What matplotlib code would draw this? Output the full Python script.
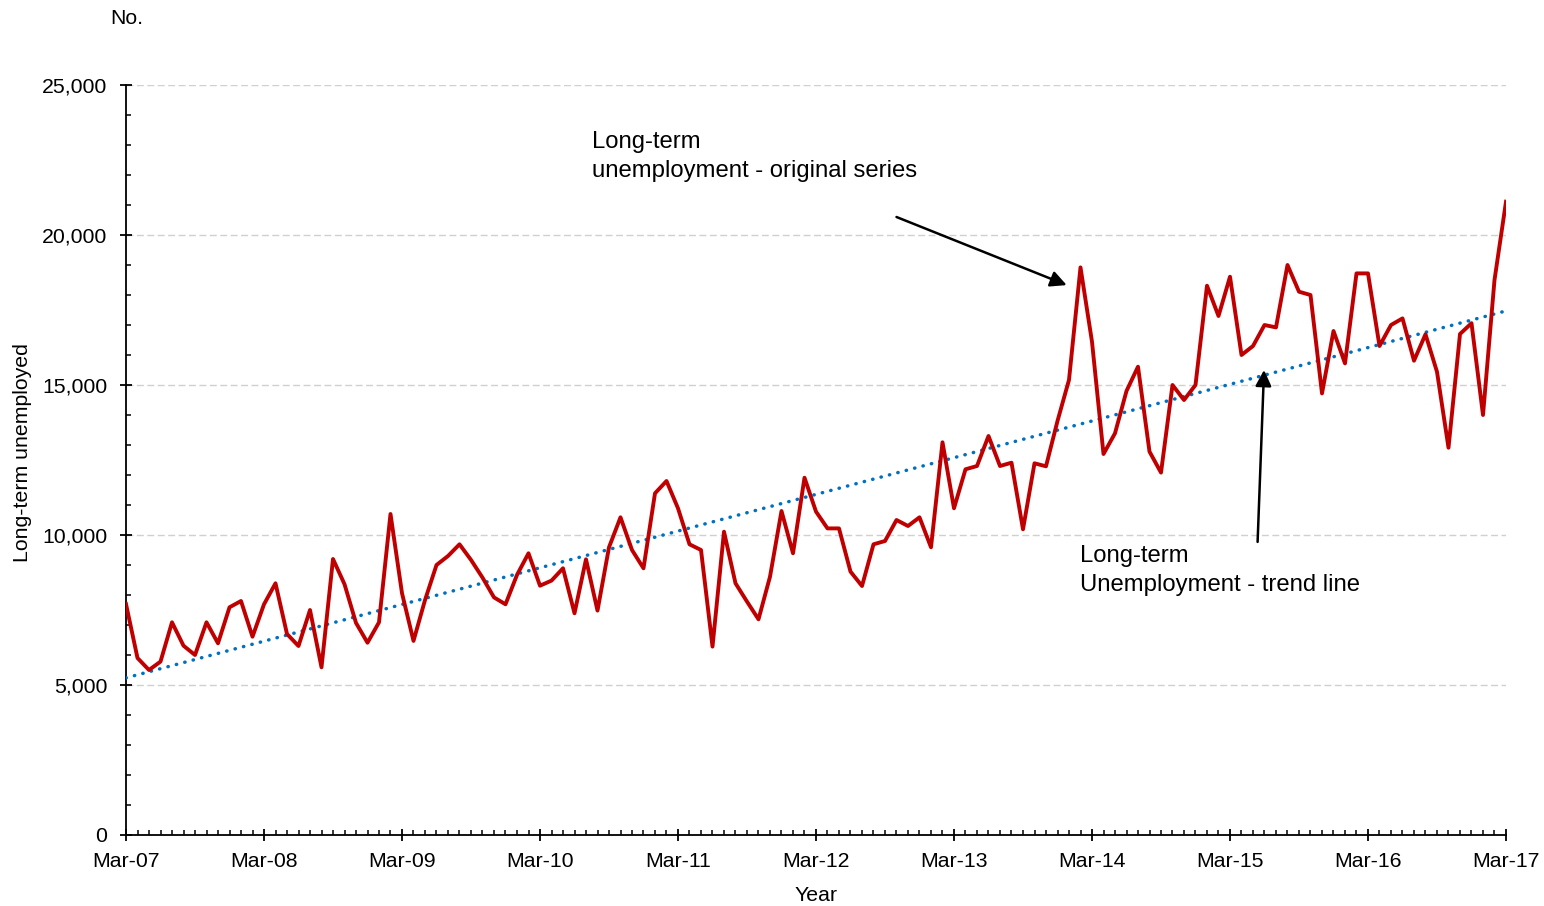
import matplotlib
matplotlib.use("Agg")
import matplotlib.pyplot as plt
from matplotlib.ticker import FuncFormatter, MultipleLocator
import numpy as np

plt.rcParams['font.family'] = ['Liberation Sans', 'DejaVu Sans']

# monthly long-term unemployment, Mar-07 .. Mar-17
long_term = [
    7700, 5900, 5500, 5780, 7090, 6310, 6000, 7090, 6390, 7590, 7800, 6610,
    7690, 8390, 6700, 6300, 7500, 5590, 9200, 8360, 7070, 6410, 7090, 10700,
    8060, 6470, 7830, 9000, 9300, 9690, 9170, 8580, 7920, 7690, 8670, 9390,
    8310, 8480, 8890, 7390, 9190, 7480, 9590, 10590, 9500, 8890, 11390, 11800,
    10890, 9690, 9500, 6280, 10110, 8390, 7780, 7190, 8610, 10800, 9390, 11910,
    10780, 10220, 10220, 8780, 8300, 9690, 9800, 10500, 10300, 10590, 9590, 13090,
    10890, 12190, 12300, 13300, 12300, 12410, 10190, 12390, 12290, 13800, 15170, 18920,
    16440, 12700, 13390, 14800, 15610, 12780, 12080, 15000, 14500, 15000, 18310, 17300,
    18610, 16000, 16300, 17000, 16920, 19000, 18110, 18000, 14720, 16800, 15720, 18720,
    18720, 16300, 17000, 17220, 15810, 16690, 15440, 12910, 16700, 17060, 14000, 18500,
    21110,
]
year_labels = ['Mar-07', 'Mar-08', 'Mar-09', 'Mar-10', 'Mar-11', 'Mar-12',
               'Mar-13', 'Mar-14', 'Mar-15', 'Mar-16', 'Mar-17']

months = np.arange(len(long_term))
y = np.array(long_term, dtype=float)

# linear trend line, like the spreadsheet one
slope, icpt = np.polyfit(months, y, 1)
trend = slope * months + icpt

fig = plt.figure(figsize=(15.44, 9.06), dpi=100)
ax = fig.add_axes([126 / 1544, 1 - 835 / 906, 1380 / 1544, 750 / 906])

ax.plot(months, trend, color='#0070C0', lw=2.5, linestyle=(0, (0.1, 2.4)),
        dash_capstyle='round', zorder=3)
ax.plot(months, y, color='#C00000', lw=2.8, zorder=4)

ax.set_xlim(0, 120)
ax.set_ylim(0, 25000)

# axes style
for s in ['top', 'right']:
    ax.spines[s].set_visible(False)
for s in ['left', 'bottom']:
    ax.spines[s].set_linewidth(1.3)

ax.set_xticks(np.arange(0, 121, 12))
ax.set_xticklabels(year_labels)
ax.xaxis.set_minor_locator(MultipleLocator(1))
ax.yaxis.set_major_locator(MultipleLocator(5000))
ax.yaxis.set_minor_locator(MultipleLocator(1000))
ax.yaxis.set_major_formatter(FuncFormatter(lambda v, p: '{:,.0f}'.format(v)))

ax.tick_params(which='major', direction='inout', length=9, width=1.3,
               labelsize=15.3)
ax.tick_params(which='minor', direction='in', length=3.5, width=1.1)
ax.tick_params(axis='y', which='major', pad=9)
ax.tick_params(axis='x', which='major', pad=7.5)

ax.grid(axis='y', which='major', color='#D0D0D0', lw=1,
        linestyle=(0, (5, 2.5)))
ax.set_axisbelow(True)

ax.set_xlabel('Year', fontsize=15.3, labelpad=11)
ax.text(23 / 1544, 0.5, 'Long-term unemployed', transform=fig.transFigure,
        rotation=90, ha='center', va='center', fontsize=15.3)
fig.text(110 / 1544, 1 - 18 / 906, 'No.', ha='left', va='center', fontsize=15.3)

# annotations
ax.annotate('', xy=(81.8, 18330), xytext=(67.0, 20600),
            arrowprops=dict(arrowstyle='-|>', color='black', lw=1.8,
                            mutation_scale=24, shrinkA=0, shrinkB=0))
ax.text(40.5, 22620, 'Long-term\nunemployment - original series',
        ha='left', va='center', fontsize=17.2, linespacing=1.42)

ax.annotate('', xy=(98.96, 15500), xytext=(98.4, 9770),
            arrowprops=dict(arrowstyle='-|>', color='black', lw=1.8,
                            mutation_scale=24, shrinkA=0, shrinkB=0))
ax.text(83.0, 8820, 'Long-term\nUnemployment - trend line',
        ha='left', va='center', fontsize=17.2, linespacing=1.42)

fig.savefig('out.png', dpi=100)
